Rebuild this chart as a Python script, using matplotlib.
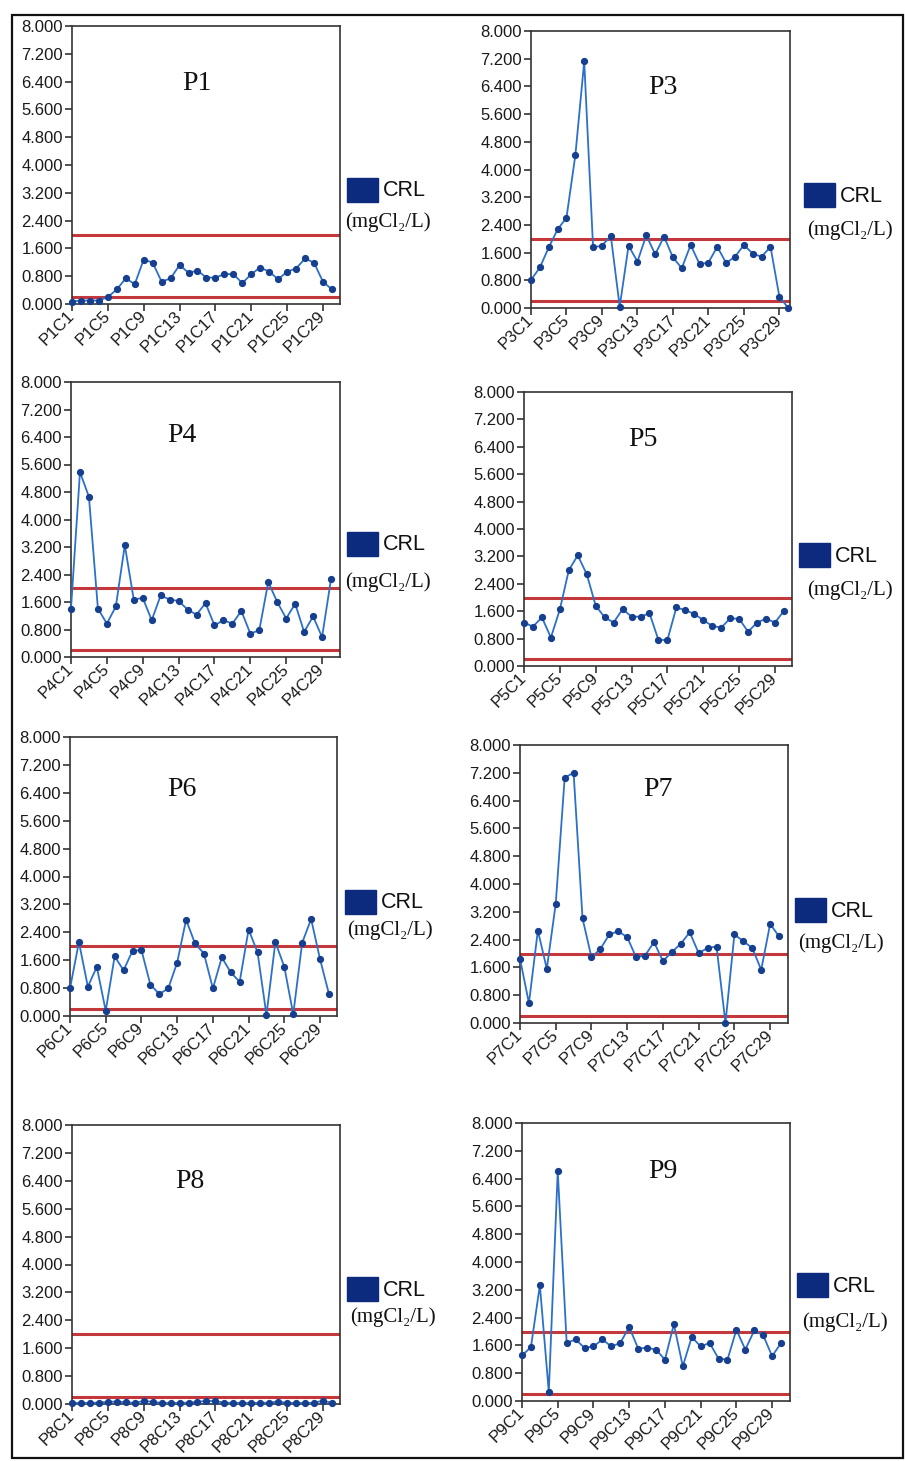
import matplotlib
matplotlib.use('Agg')
import matplotlib.pyplot as plt
from matplotlib.patches import Rectangle

# ---------------- data ----------------
panel_names = ['P1', 'P3', 'P4', 'P5', 'P6', 'P7', 'P8', 'P9']
sample_numbers = list(range(1, 31))

p1 = [0.07, 0.10, 0.10, 0.10, 0.20, 0.42, 0.74, 0.57, 1.28, 1.19,
      0.64, 0.74, 1.12, 0.90, 0.96, 0.76, 0.76, 0.86, 0.86, 0.60,
      0.86, 1.05, 0.93, 0.71, 0.93, 1.02, 1.31, 1.19, 0.64, 0.42]
p3 = [0.81, 1.17, 1.75, 2.27, 2.61, 4.41, 7.12, 1.75, 1.80, 2.08,
      0.04, 1.80, 1.34, 2.10, 1.55, 2.06, 1.46, 1.15, 1.82, 1.27,
      1.31, 1.77, 1.30, 1.48, 1.82, 1.57, 1.48, 1.77, 0.33, 0.00]
p4 = [1.41, 5.38, 4.66, 1.41, 0.97, 1.47, 3.25, 1.67, 1.72, 1.07,
      1.79, 1.67, 1.63, 1.38, 1.23, 1.57, 0.92, 1.07, 0.97, 1.34,
      0.68, 0.78, 2.18, 1.60, 1.12, 1.55, 0.73, 1.18, 0.58, 2.27]
p5 = [1.27, 1.15, 1.42, 0.83, 1.65, 2.80, 3.23, 2.68, 1.76, 1.42,
      1.27, 1.66, 1.44, 1.44, 1.54, 0.76, 0.76, 1.71, 1.63, 1.52,
      1.34, 1.17, 1.12, 1.39, 1.38, 1.00, 1.27, 1.38, 1.27, 1.61]
p6 = [0.79, 2.12, 0.84, 1.41, 0.15, 1.71, 1.31, 1.87, 1.89, 0.90,
      0.63, 0.79, 1.53, 2.76, 2.08, 1.79, 0.79, 1.68, 1.25, 0.98,
      2.48, 1.83, 0.03, 2.12, 1.41, 0.05, 2.10, 2.78, 1.63, 0.63]
p7 = [1.85, 0.57, 2.66, 1.56, 3.43, 7.06, 7.20, 3.01, 1.89, 2.13,
      2.55, 2.64, 2.47, 1.89, 1.94, 2.33, 1.78, 2.04, 2.28, 2.61,
      2.01, 2.16, 2.20, 0.00, 2.55, 2.35, 2.16, 1.53, 2.85, 2.49]
p8 = [0.03, 0.03, 0.03, 0.04, 0.06, 0.07, 0.05, 0.03, 0.09, 0.06,
      0.03, 0.03, 0.03, 0.04, 0.06, 0.09, 0.08, 0.04, 0.03, 0.03,
      0.03, 0.03, 0.04, 0.07, 0.03, 0.03, 0.03, 0.03, 0.10, 0.03]
p9 = [1.31, 1.55, 3.33, 0.26, 6.62, 1.67, 1.77, 1.53, 1.57, 1.77,
      1.57, 1.67, 2.13, 1.51, 1.53, 1.48, 1.19, 2.21, 1.00, 1.84,
      1.57, 1.67, 1.22, 1.19, 2.05, 1.48, 2.03, 1.89, 1.29, 1.67]
series = [p1, p3, p4, p5, p6, p7, p8, p9]

limit_low = 0.2
limit_high = 2.0
y_ticks = [0.0, 0.8, 1.6, 2.4, 3.2, 4.0, 4.8, 5.6, 6.4, 7.2, 8.0]
legend_label = 'CRL'
unit_label = '(mgCl\u2082/L)'

# ---------------- layout (pixels) ----------------
W, H = 905, 1461
layout = {
    'P1': dict(box=(72, 26, 340, 304), title=(197, 83), leg=(347, 178), unit=(345, 222), xmax=30.9),
    'P3': dict(box=(531, 31, 790, 308), title=(663, 88), leg=(804, 183), unit=(807, 230), xmax=30.2),
    'P4': dict(box=(71, 382, 340, 657), title=(182, 435), leg=(347, 532), unit=(345, 582), xmax=31.0),
    'P5': dict(box=(524, 392, 792, 666), title=(643, 440), leg=(799, 543), unit=(807, 590), xmax=30.9),
    'P6': dict(box=(70, 737, 337, 1016), title=(182, 790), leg=(345, 890), unit=(347, 930), xmax=30.9),
    'P7': dict(box=(520, 745, 788, 1023), title=(658, 790), leg=(795, 898), unit=(798, 943), xmax=31.0),
    'P8': dict(box=(72, 1125, 340, 1404), title=(190, 1182), leg=(347, 1277), unit=(350, 1317), xmax=30.9),
    'P9': dict(box=(522, 1123, 790, 1401), title=(663, 1172), leg=(797, 1273), unit=(802, 1322), xmax=31.0),
}

line_color = '#2c70c8'
marker_color = '#173f8f'
red = '#c4383c'
navy = '#0d2b7e'
sans = ['Liberation Sans', 'DejaVu Sans']
serif = ['Liberation Serif', 'DejaVu Serif']

fig = plt.figure(figsize=(W / 100, H / 100), dpi=100)
fig.patch.set_facecolor('white')

# page frame of the scanned figure
fig.patches.append(Rectangle((12 / W, 1 - 1458 / H), (903 - 12) / W, (1458 - 15) / H,
                             transform=fig.transFigure, fill=False,
                             edgecolor='#111111', lw=1.6))

for name, vals in zip(panel_names, series):
    L = layout[name]
    l, t, r, b = L['box']
    ax = fig.add_axes([l / W, 1 - b / H, (r - l) / W, (b - t) / H])
    ax.plot(sample_numbers, vals, color=line_color, lw=1.3, marker='o', ms=4.2,
            mfc=marker_color, mec=marker_color, zorder=3, clip_on=False)
    ax.axhline(limit_high, color=red, lw=2.2, zorder=2)
    ax.axhline(limit_low, color=red, lw=2.2, zorder=2)
    ax.set_xlim(1, L['xmax'])
    ax.set_ylim(0, 8)
    ax.set_yticks(y_ticks)
    ax.set_yticklabels([f'{v:.3f}' for v in y_ticks], family=sans, fontsize=12,
                       color='#1a1a1a')
    xt = sample_numbers[::4]
    ax.set_xticks(xt)
    ax.set_xticklabels([f'{name}C{i}' for i in xt], rotation=45, ha='right',
                       va='center', rotation_mode='anchor', family=sans,
                       fontsize=12, color='#1a1a1a')
    ax.tick_params(axis='y', length=5, width=1.2, pad=1.5, color='#333333')
    ax.tick_params(axis='x', length=5, width=1.2, pad=2, color='#333333')
    for lab in ax.get_xticklabels():
        lab.set_x(lab.get_position()[0])
    for s in ax.spines.values():
        s.set_color('#333333')
        s.set_linewidth(1.2)

    tx, ty = L['title']
    fig.text(tx / W, 1 - ty / H, name, ha='center', va='center',
             family=serif, fontsize=20, color='#111111')

    lx, ly = L['leg']
    fig.patches.append(Rectangle((lx / W, 1 - (ly + 24) / H), 31 / W, 24 / H,
                                 transform=fig.transFigure, facecolor=navy,
                                 edgecolor=navy))
    fig.text((lx + 36) / W, 1 - (ly + 13) / H, legend_label, ha='left', va='center',
             family=sans, fontsize=15.5, color='#111111')
    ux, uy = L['unit']
    fig.text(ux / W, 1 - uy / H, unit_label, ha='left', va='center',
             family=serif, fontsize=15, color='#111111')

fig.savefig('out.png', dpi=100, facecolor='white')
